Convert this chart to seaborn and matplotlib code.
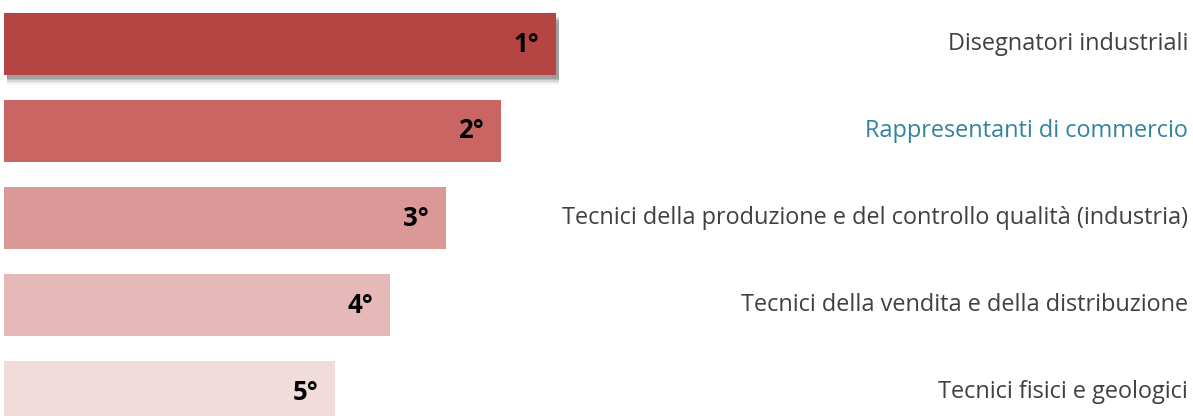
import matplotlib
matplotlib.use('Agg')
import matplotlib.pyplot as plt
import matplotlib.patheffects as pe
import seaborn as sns
import pandas as pd

# ==================== dati ====================
professioni = [
    'Disegnatori industriali',
    'Rappresentanti di commercio',
    'Tecnici della produzione e del controllo qualità (industria)',
    'Tecnici della vendita e della distribuzione',
    'Tecnici fisici e geologici',
]
valori = [100, 90, 80, 70, 60]
posizioni = ['1°', '2°', '3°', '4°', '5°']
colori = ['#B54543', '#C96663', '#DA9896', '#E6B9B9', '#F1DBDB']
colori_testo = ['#404040', '#31849B', '#404040', '#404040', '#404040']

df = pd.DataFrame({'professione': professioni, 'valore': valori})

# ==================== grafico ====================
sns.set_theme(style='white')
plt.rcParams['font.family'] = ['Open Sans', 'DejaVu Sans']

fig = plt.figure(figsize=(11.93, 4.16), dpi=100)
ax = fig.add_axes([0, 0, 1, 1])

sns.barplot(data=df, x='valore', y='professione', hue='professione',
            palette=colori, width=0.71, orient='h', legend=False,
            saturation=1, linewidth=0, ax=ax)

# scala: 5.52 px per unità, barre che partono a 4 px
ax.set_xlim(-4 / 5.52, (1193 - 4) / 5.52)
ax.set_ylim((416 - 44) / 87, -44 / 87)
ax.axis('off')

# ombra sfumata sotto la prima barra
ax.patches[0].set_path_effects([
    pe.SimplePatchShadow(offset=(2, -7), shadow_rgbFace='#000000', alpha=0.04),
    pe.SimplePatchShadow(offset=(2, -6), shadow_rgbFace='#000000', alpha=0.05),
    pe.SimplePatchShadow(offset=(2, -5), shadow_rgbFace='#000000', alpha=0.08),
    pe.SimplePatchShadow(offset=(2, -4), shadow_rgbFace='#000000', alpha=0.12),
    pe.SimplePatchShadow(offset=(2, -3), shadow_rgbFace='#000000', alpha=0.15),
    pe.Normal()])

for i, bar in enumerate(ax.patches[:len(valori)]):
    yc = bar.get_y() + bar.get_height() / 2
    ax.annotate(posizioni[i], xy=(bar.get_width(), yc),
                xytext=(-12, 0), textcoords='offset points',
                ha='right', va='center', fontsize=18.5, fontweight='bold',
                color='black')
    ax.text(0.996, yc, professioni[i], transform=ax.get_yaxis_transform(),
            ha='right', va='center', fontsize=16.9, color=colori_testo[i])

fig.savefig('out.png', dpi=100)
